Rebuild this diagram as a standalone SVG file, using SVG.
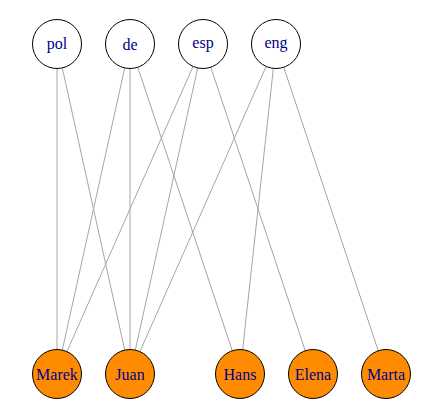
<svg xmlns="http://www.w3.org/2000/svg" width="435" height="415" viewBox="0 0 435 415">
<style>
.e{stroke:#a6a6a6;stroke-width:1}
.t circle{fill:#ffffff;stroke:#000;stroke-width:1}
.b circle{fill:#ff8c00;stroke:#000;stroke-width:1}
text{font-family:"Liberation Serif","Times New Roman",serif;font-size:16px;fill:#00008b;text-anchor:middle;dominant-baseline:central}
</style>
<rect width="435" height="415" fill="#fff"/>
<g id="connectors">
<line class="e" x1="57" y1="44" x2="57" y2="374"/>
<line class="e" x1="57" y1="44" x2="130" y2="374"/>
<line class="e" x1="130" y1="44" x2="57" y2="374"/>
<line class="e" x1="130" y1="44" x2="130" y2="374"/>
<line class="e" x1="130" y1="44" x2="240" y2="374"/>
<line class="e" x1="203" y1="44" x2="57" y2="374"/>
<line class="e" x1="203" y1="44" x2="130" y2="374"/>
<line class="e" x1="203" y1="44" x2="313" y2="374"/>
<line class="e" x1="276" y1="44" x2="130" y2="374"/>
<line class="e" x1="276" y1="44" x2="240" y2="374"/>
<line class="e" x1="276" y1="44" x2="386" y2="374"/>
</g>
<g id="pol" class="t"><circle cx="57" cy="44" r="24.5"/><text x="57" y="43">pol</text></g>
<g id="de" class="t"><circle cx="130" cy="44" r="24.5"/><text x="130" y="44">de</text></g>
<g id="esp" class="t"><circle cx="203" cy="44" r="24.5"/><text x="203" y="42">esp</text></g>
<g id="eng" class="t"><circle cx="276" cy="44" r="24.5"/><text x="276" y="42">eng</text></g>
<g id="Marek" class="b"><circle cx="57" cy="374" r="24.5"/><text x="57" y="374">Marek</text></g>
<g id="Juan" class="b"><circle cx="130" cy="374" r="24.5"/><text x="130" y="374">Juan</text></g>
<g id="Hans" class="b"><circle cx="240" cy="374" r="24.5"/><text x="240" y="374">Hans</text></g>
<g id="Elena" class="b"><circle cx="313" cy="374" r="24.5"/><text x="313" y="374">Elena</text></g>
<g id="Marta" class="b"><circle cx="386" cy="374" r="24.5"/><text x="386" y="374">Marta</text></g>
</svg>
